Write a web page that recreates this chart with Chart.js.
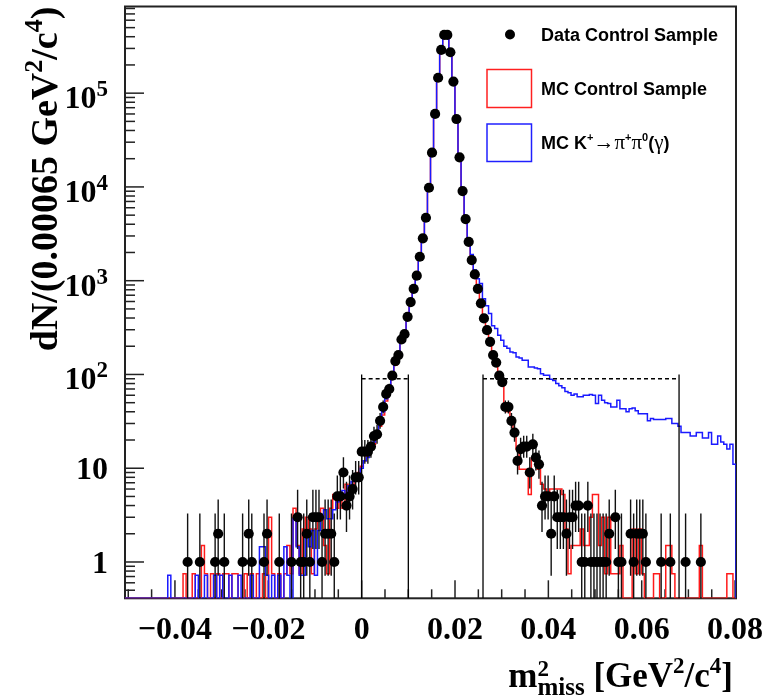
<!DOCTYPE html>
<html>
<head>
<meta charset="utf-8">
<script src="https://cdn.jsdelivr.net/npm/chart.js@4.4.0/dist/chart.umd.min.js"></script>
<style>
  html, body { margin: 0; padding: 0; background: #fff; }
  #wrap { width: 781px; height: 700px; }
</style>
</head>
<body>
<div id="wrap"><canvas id="chart" width="781" height="700"></canvas></div>
<script>
// axis ranges (m2miss in GeV^2/c^4, 200 bins)
const xMin = -0.0507, xMax = 0.0802, nBins = 200;
const yMin = 0.41, yMax = 8.4e5;

const xMajorTicks = [-0.04, -0.02, 0, 0.02, 0.04, 0.06, 0.08];
const xTickLabels = ['\u22120.04', '\u22120.02', '0', '0.02', '0.04', '0.06', '0.08'];
const yMajorTicks = [1, 10, 100, 1000, 10000, 100000];
const yTickLabels = [['1', ''], ['10', ''], ['10', '2'], ['10', '3'], ['10', '4'], ['10', '5']];

// signal-region boxes: [low, high] edges, line tops
const cutBoxes = [[0, 0.01], [0.026, 0.068]];
const cutTop = 100;
const cutDash = 90;

// Data Control Sample, counts per bin
const dataCounts = [
  0,0,0,0,0,0,0,0,0,0, 0,0,0,0,0,0,0,0,0,0,
  1,0,0,0,1,0,0,0,0,1, 2,0,1,0,0,0,0,0,1,0,
  2,1,0,0,0,1,2,0,0,0, 1,0,0,0,1,0,3,1,1,2,
  1,3,3,3,1,2,2,2,1,5, 5,9,4,5,6,8,8,15,15,15,
  17,22,23,32,45,62,70,97,139,161, 236,269,412,591,820,1130,1800,2830,4690,9800,
  23200,60000,146000,289000,418000,418000,273000,133000,53000,20700, 9040,4540,2600,1660,1167,820,573,396,297,223,
  161,134,97,83,45,45,32,24,12,16, 17,17,9,18,13,11,4,5,5,2,
  5,3,3,3,2,3,3,4,4,1, 1,4,1,1,1,1,1,1,2,0,
  3,1,1,0,0,2,1,2,2,2, 1,0,0,0,0,1,0,0,1,0,
  0,0,0,1,0,0,0,0,1,0, 0,0,0,0,0,0,0,0,0,0
];

// MC Control Sample (normalised)
const mcControl = [
  0,0,0,0,0,0,0,0,0,0, 0,0,0,0,0,0,0,0,0,0.75,
  0,0,0.75,0,0,1.5,0.75,0,0.75,0, 0.75,0,0.75,0.75,0,0.75,0.75,0,0,0.75,
  0,0.75,0,0.75,0,0.75,0,3,0.75,0, 0.75,0,0.75,1.5,0.75,3.75,1.5,0.75,2.25,3,
  2.25,0.75,2.25,3,3.75,1.5,0.75,3.75,5.25,3.75, 4.5,3.75,6.75,5.25,6,7.5,9,10.5,12,13.5,
  16,18,21,28,37,52,66,90,125,160, 225,275,400,580,800,1120,1750,2800,4600,9700,
  23000,60000,147000,290000,420000,415000,270000,131000,52000,20000, 8800,4400,2500,1600,1100,780,540,380,285,210,
  155,128,94,80,45,40,33,24,16,9.75, 9.75,9.75,5.25,12.75,12,9.75,6.75,6,5.25,6,
  6,6,6,5.25,2.25,0.75,1.5,1.5,1.5,2.25, 1.5,1.5,3,5.25,5.25,1.5,3,0.75,3,0.75,
  0.75,0.75,1.5,0,0,0,2.25,0.75,2.25,0.75, 0,0,0,0.75,0.75,0,0,1.5,1.5,0.75,
  0,0,0,0,0,0,0,0,1.5,0, 0,0,0,0,0,0,0,0.75,0.75,0
];

// MC K+ -> pi+ pi0 (gamma) (normalised)
const mcKpipi = [
  0,0,0,0,0,0,0,0,0,0, 0,0,0,0,0.72,0,0,0,0,0,
  0,0,0,0.72,0,0,0.72,0,0,0.72, 0,0.72,0,0,0.72,0,0,0.72,0,0,
  0,0.72,0,0,1.45,1.45,0.72,0,0.72,0, 0.72,0,1.45,0.72,0,2.9,1.45,0.72,0.72,2.17,
  1.45,2.17,0.72,2.17,2.9,3.6,2.9,2.9,3.6,4.35, 5.1,5.8,5.1,6.5,7.2,8,8.7,10,12,13,
  16,19,23,30,40,55,70,95,130,165, 230,280,410,590,810,1130,1780,2850,4700,9900,
  23500,61000,148000,292000,425000,420000,275000,135000,54000,21000, 9200,4600,2700,1900,1300,1050,936,640,540,448,
  330,310,262,232,200,190,174,170,154,150, 142,142,120,120,117,115,102,98,98,89,
  86,80,76,72,66,64,60,62,58,58, 60,60,61,60,49,60,53,50,49,45,
  45,53,43,43,40,43,44,41,38,38, 38,32,34,33,33,33,33,34,34,30,
  30,28,24,24,24,22,22,24,24,21, 21,24,18,18,22,19,18,16,18,11
];

const binW = (xMax - xMin) / nBins;
const edge = i => xMin + i * binW;

function stepPoints(vals) {
  const pts = vals.map((v, i) => ({ x: edge(i), y: v > 0 ? v : yMin }));
  pts.push({ x: xMax, y: yMin });
  return pts;
}

const dataPoints = [];
dataCounts.forEach((v, i) => { if (v > 0) dataPoints.push({ x: edge(i) + binW / 2, y: v }); });

// Poisson 68% interval (Wilson-Hilferty approx.)
function poissonLow(n) { return n * Math.pow(1 - 1 / (9 * n) - 1 / (3 * Math.sqrt(n)), 3); }
function poissonHigh(n) { const m = n + 1; return m * Math.pow(1 - 1 / (9 * m) + 1 / (3 * Math.sqrt(m)), 3); }

const SERIF = '"Liberation Serif", "Times New Roman", serif';
const SANS = '"Liberation Sans", Arial, sans-serif';

function drawRuns(ctx, x, y, parts) {
  for (const p of parts) {
    ctx.font = p.f;
    ctx.fillText(p.t, x, y + (p.dy || 0));
    x += p.adv === 0 ? 0 : ctx.measureText(p.t).width;
  }
  return x;
}
function runsWidth(ctx, parts) {
  let w = 0;
  for (const p of parts) { ctx.font = p.f; if (p.adv !== 0) w += ctx.measureText(p.t).width; }
  return w;
}

const cutSets = [];
cutBoxes.forEach(([a, b]) => {
  const base = { type: 'line', borderColor: '#000', borderWidth: 1.3, pointRadius: 0, fill: false };
  cutSets.push({ ...base, data: [{ x: a, y: yMin }, { x: a, y: cutTop }] });
  cutSets.push({ ...base, data: [{ x: b, y: yMin }, { x: b, y: cutTop }] });
  cutSets.push({ ...base, borderDash: [4, 3], data: [{ x: a, y: cutDash }, { x: b, y: cutDash }] });
});

const errorBars = {
  id: 'errorBars',
  beforeDatasetDraw(chart, args) {
    if (args.index !== 0) return;
    const { ctx, chartArea: a, scales: { x, y } } = chart;
    ctx.save();
    ctx.beginPath();
    ctx.rect(a.left, a.top, a.right - a.left, a.bottom - a.top);
    ctx.clip();
    ctx.strokeStyle = '#111';
    ctx.lineWidth = 1.4;
    chart.data.datasets[0].data.forEach(p => {
      const px = x.getPixelForValue(p.x);
      const lo = Math.max(poissonLow(p.y), yMin * 0.5);
      ctx.beginPath();
      ctx.moveTo(px, y.getPixelForValue(lo));
      ctx.lineTo(px, y.getPixelForValue(poissonHigh(p.y)));
      ctx.stroke();
    });
    ctx.restore();
  }
};

const frame = {
  id: 'frame',
  beforeDatasetsDraw(chart) {
    const { ctx, chartArea: a, scales: { x, y } } = chart;
    ctx.save();
    ctx.strokeStyle = '#222';
    ctx.lineWidth = 1.5;
    // y ticks (inside)
    for (let d = -1; d <= 5; d++) {
      for (let k = 1; k <= 9; k++) {
        const v = k * Math.pow(10, d);
        if (v < yMin || v > yMax) continue;
        const py = y.getPixelForValue(v);
        const len = k === 1 ? 19 : 10;
        ctx.beginPath(); ctx.moveTo(a.left, py); ctx.lineTo(a.left + len, py); ctx.stroke();
      }
    }
    // x ticks (inside)
    for (let t = -0.05; t <= 0.0801; t += 0.005) {
      const v = Math.round(t * 1000) / 1000;
      if (v < xMin || v > xMax) continue;
      const px = x.getPixelForValue(v);
      const major = xMajorTicks.some(m => Math.abs(m - v) < 1e-6);
      const len = major ? 18 : 9;
      ctx.beginPath(); ctx.moveTo(px, a.bottom); ctx.lineTo(px, a.bottom - len); ctx.stroke();
    }
    ctx.lineWidth = 2;
    ctx.strokeRect(a.left, a.top, a.right - a.left, a.bottom - a.top);
    ctx.restore();
  },
  afterDraw(chart) {
    const { ctx, scales: { x, y } } = chart;
    ctx.save();
    ctx.fillStyle = '#000';
    ctx.textBaseline = 'alphabetic';

    // y tick labels
    yMajorTicks.forEach((v, i) => {
      const py = y.getPixelForValue(v);
      const [main, sup] = yTickLabels[i];
      ctx.textAlign = 'left';
      const right = 108;
      if (sup) {
        ctx.font = 'bold 23px ' + SERIF;
        const ws = ctx.measureText(sup).width;
        ctx.fillText(sup, right - ws, py + 3);
        ctx.font = 'bold 32px ' + SERIF;
        const wm = ctx.measureText(main).width;
        ctx.fillText(main, right - ws - wm, py + 15);
      } else {
        ctx.font = 'bold 32px ' + SERIF;
        const wm = ctx.measureText(main).width;
        ctx.fillText(main, right - wm, py + 11);
      }
    });

    // x tick labels
    ctx.font = 'bold 32px ' + SERIF;
    ctx.textAlign = 'center';
    xMajorTicks.forEach((v, i) => {
      ctx.fillText(xTickLabels[i], x.getPixelForValue(v), 639);
    });
    ctx.textAlign = 'left';

    // x title: m^2_miss [GeV^2/c^4]
    const big = 'bold 35px ' + SERIF, sup = 'bold 23px ' + SERIF, sub = 'bold 25px ' + SERIF;
    const xParts = [
      { t: 'm', f: big },
      { t: '2', f: sup, dy: -11, adv: 0 },
      { t: 'miss', f: sub, dy: 8 },
      { t: ' [GeV', f: big },
      { t: '2', f: sup, dy: -14 },
      { t: '/c', f: big },
      { t: '4', f: sup, dy: -14 },
      { t: ']', f: big }
    ];
    const xw = runsWidth(ctx, xParts);
    drawRuns(ctx, 733 - xw, 687, xParts);

    // y title
    const ybig = 'bold 38px ' + SERIF, ysup = 'bold 26px ' + SERIF;
    const yParts = [
      { t: 'dN/(0.00065 GeV', f: ybig },
      { t: '2', f: ysup, dy: -15 },
      { t: '/c', f: ybig },
      { t: '4', f: ysup, dy: -15 },
      { t: ')', f: ybig }
    ];
    const yw = runsWidth(ctx, yParts);
    ctx.save();
    ctx.translate(57, 179);
    ctx.rotate(-Math.PI / 2);
    drawRuns(ctx, -yw / 2, 0, yParts);
    ctx.restore();

    // legend
    ctx.beginPath();
    ctx.arc(510, 34.5, 5, 0, Math.PI * 2);
    ctx.fill();
    ctx.lineWidth = 1.5;
    ctx.strokeStyle = '#ff2020';
    ctx.strokeRect(487, 69.5, 44.5, 38);
    ctx.strokeStyle = '#2020ff';
    ctx.strokeRect(487, 124, 44.5, 37.5);
    const lf = 'bold 18px ' + SANS;
    ctx.font = lf;
    ctx.fillText('Data Control Sample', 541, 40.5);
    ctx.fillText('MC Control Sample', 541, 94.5);
    const ls = 'bold 11px ' + SANS, lsym = '21px ' + SERIF;
    drawRuns(ctx, 541, 148.5, [
      { t: 'MC K', f: lf },
      { t: '+', f: ls, dy: -8 },
      { t: '\u2192\u03c0', f: lsym },
      { t: '+', f: ls, dy: -8 },
      { t: '\u03c0', f: lsym },
      { t: '0', f: ls, dy: -8 },
      { t: '(', f: lf },
      { t: '\u03b3', f: lsym },
      { t: ')', f: lf }
    ]);
    ctx.restore();
  }
};

new Chart(document.getElementById('chart').getContext('2d'), {
  type: 'scatter',
  data: {
    datasets: [
      {
        type: 'scatter',
        label: 'Data Control Sample',
        data: dataPoints,
        pointRadius: 5.1,
        pointBackgroundColor: '#000',
        pointBorderWidth: 0,
        showLine: false
      },
      ...cutSets,
      {
        type: 'line',
        label: 'MC K+ -> pi+ pi0 (gamma)',
        data: stepPoints(mcKpipi),
        stepped: true,
        borderColor: '#1a1aff',
        borderWidth: 1.5,
        pointRadius: 0,
        fill: false
      },
      {
        type: 'line',
        label: 'MC Control Sample',
        data: stepPoints(mcControl),
        stepped: true,
        borderColor: '#ff1a1a',
        borderWidth: 1.5,
        pointRadius: 0,
        fill: false
      }
    ]
  },
  options: {
    responsive: false,
    animation: false,
    layout: { padding: { left: 125, right: 45, top: 6.5, bottom: 101.7 } },
    plugins: { legend: { display: false }, tooltip: { enabled: false } },
    scales: {
      x: { type: 'linear', min: xMin, max: xMax, display: false },
      y: { type: 'logarithmic', min: yMin, max: yMax, display: false }
    }
  },
  plugins: [errorBars, frame]
});
</script>
</body>
</html>
